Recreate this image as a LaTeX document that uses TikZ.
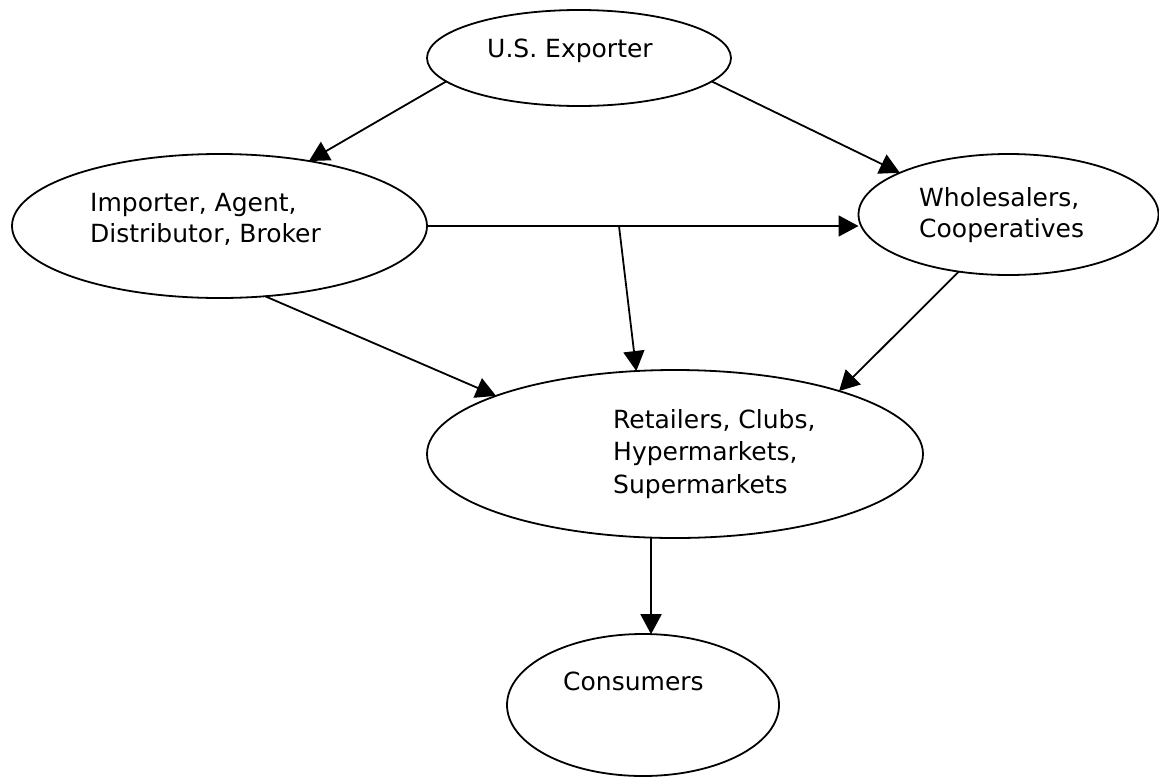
\documentclass[tikz,border=0pt]{standalone}
\usepackage{fontspec}
\setmainfont{DejaVu Sans}
\usetikzlibrary{shapes.geometric,arrows.meta}
\begin{document}
\begin{tikzpicture}[x=1pt,y=-1pt,
  oval/.style={draw, ellipse, line width=1.8pt, inner sep=0pt, outer sep=0pt},
  lbl/.style={anchor=base west, inner sep=0pt, align=left, font=\fontsize{25}{31}\selectfont},
  flow/.style={line width=1.8pt, -{Triangle[length=20pt,width=21pt]}}]
\useasboundingbox (0,0) rectangle (1159,777);
% ellipses
\node[oval, minimum width=304pt, minimum height=96pt]  (exp) at (579,58) {};
\node[oval, minimum width=415pt, minimum height=144pt] (imp) at (219.5,226) {};
\node[oval, minimum width=300pt, minimum height=121pt] (who) at (1008.5,214.5) {};
\node[oval, minimum width=496pt, minimum height=168pt] (ret) at (675,454) {};
\node[oval, minimum width=272pt, minimum height=142pt] (con) at (643,705) {};
% labels (anchor = baseline of the last line)
\node[lbl] (exptxt) at (487,57) {U.S. Exporter};
\node[lbl] (imptxt) at (90,242) {Importer, Agent,\\Distributor, Broker};
\node[lbl] (whotxt) at (919,237) {Wholesalers,\\Cooperatives};
\node[lbl, font=\fontsize{25}{32.5}\selectfont] (rettxt) at (613,493) {Retailers, Clubs,\\Hypermarkets,\\Supermarkets};
\node[lbl] (contxt) at (563,690) {Consumers};
% connectors
\draw[flow] (exp.190.4) -- (imp.36.1);
\draw[flow] (exp.350.7) -- (who.159.5);
\draw[flow] (imp.east) -- (imp.east -| who.west);
\coordinate (br) at (619,226);
\draw[flow] (br) -- (ret.115.4);
\draw[flow] (imp.303.4) -- (ret.162.3);
\draw[flow] (who.229) -- (ret.21.5);
\draw[flow] (ret.254.7) -- (ret.254.7 |- con.82.8);
\end{tikzpicture}
\end{document}
